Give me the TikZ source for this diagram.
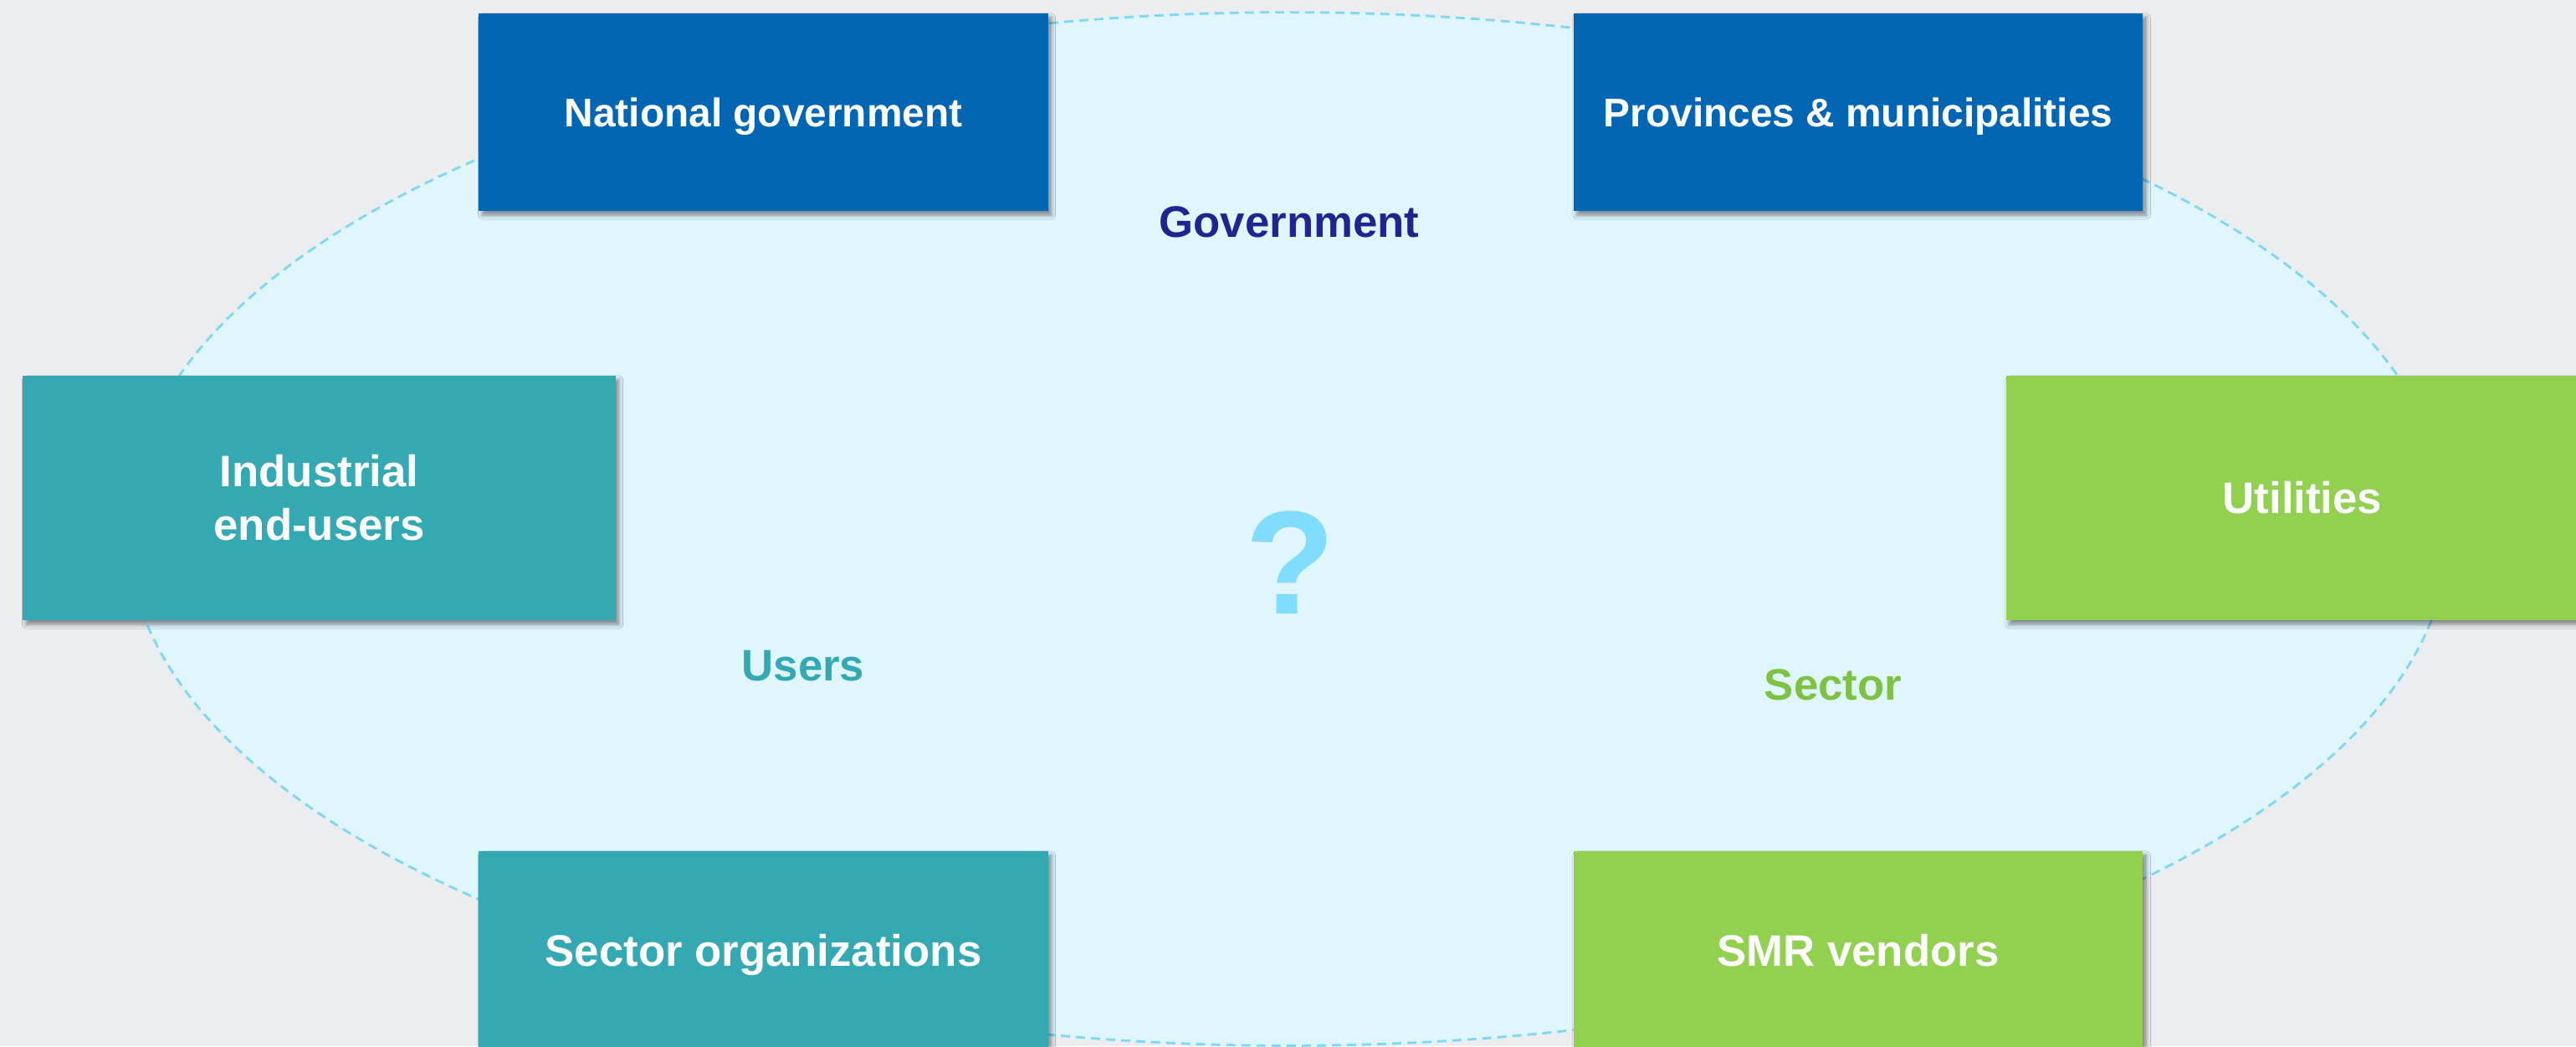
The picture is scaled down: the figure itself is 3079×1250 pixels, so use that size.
\documentclass[tikz,border=0pt]{standalone}
\usepackage{fontspec}
\setmainfont{Liberation Sans}
\usetikzlibrary{shadows.blur}
\definecolor{bgcol}{RGB}{236,237,239}
\definecolor{ellfill}{RGB}{223,246,254}
\definecolor{elldraw}{RGB}{125,215,247}
\definecolor{govblue}{RGB}{0,102,179}
\definecolor{teal}{RGB}{52,169,180}
\definecolor{green}{RGB}{146,208,80}
\definecolor{govtext}{RGB}{31,36,142}
\definecolor{sectortext}{RGB}{125,194,66}
\definecolor{qcol}{RGB}{128,221,255}
\begin{document}
\begin{tikzpicture}[x=0.01cm,y=-0.01cm,
  box/.style={rectangle, inner sep=0pt, text=white, align=center,
    blur shadow={shadow xshift=0.04cm, shadow yshift=-0.05cm,
      shadow blur radius=0.05cm, shadow blur steps=6, shadow opacity=45}},
  topbox/.style={box, fill=govblue, minimum width=6.80cm, minimum height=2.36cm,
    font=\bfseries\fontsize{13.6}{16.3}\selectfont, text height=9.8pt, text depth=0pt},
  sidebox/.style={box, minimum width=7.08cm, minimum height=2.92cm,
    font=\bfseries\fontsize{15}{18.2}\selectfont},
  botbox/.style={box, minimum width=6.80cm, minimum height=2.36cm,
    font=\bfseries\fontsize{15}{18.2}\selectfont, text height=10.8pt, text depth=0pt},
  grouplabel/.style={anchor=base, inner sep=0pt, font=\bfseries\fontsize{15}{18}\selectfont}
]
\useasboundingbox (0,0) rectangle (3079,1250);
\clip (0,0) rectangle (3079,1250);
\fill[bgcol] (0,0) rectangle (3079,1250);
\path[fill=ellfill, draw=elldraw, line width=0.8pt, dash pattern=on 0.11cm off 0.07cm]
  (1540,632) ellipse [x radius=13.87cm, y radius=6.17cm];

\node[grouplabel, text=govtext] (govlabel) at (1541,283) {Government};
\node[grouplabel, text=teal] (userslabel) at (960,813) {Users};
\node[grouplabel, text=sectortext] (sectorlabel) at (2191,836) {Sector};
\node[anchor=base, inner sep=0pt, text=qcol, font=\bfseries\fontsize{50}{60}\selectfont] (q) at (1542,733) {?};

\node[topbox] (natgov) at (912.5,134) {National government};
\node[topbox] (prov) at (2221,134) {Provinces \& municipalities};
\node[sidebox, fill=teal] (ind) at (381.5,595) {Industrial\\end-users};
\node[sidebox, fill=green] (util) at (2752,595) {Utilities};
\node[botbox, fill=teal] (secorg) at (912.5,1135) {Sector organizations};
\node[botbox, fill=green] (smr) at (2221,1135) {SMR vendors};
\end{tikzpicture}
\end{document}
